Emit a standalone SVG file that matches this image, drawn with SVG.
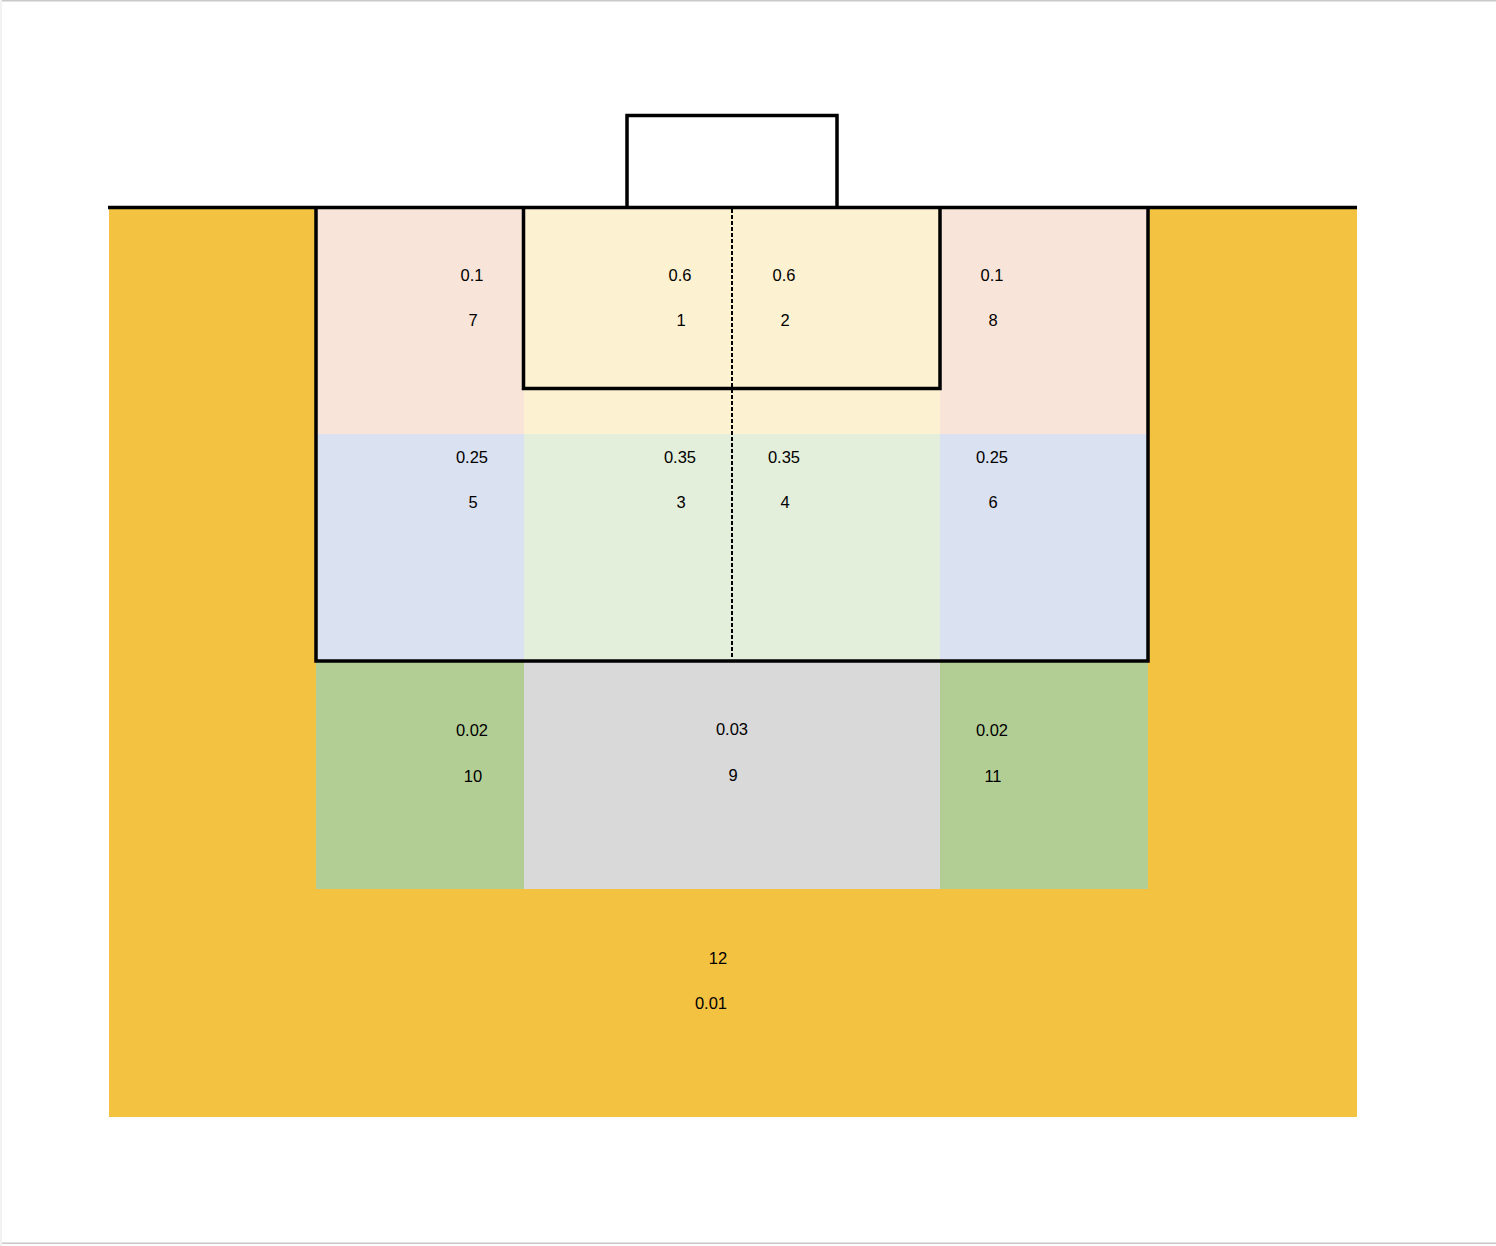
<svg xmlns="http://www.w3.org/2000/svg" width="1496" height="1246" viewBox="0 0 1496 1246">
<style>
.t{font-family:"Liberation Sans",Arial,sans-serif;font-size:16.5px;fill:#000;text-anchor:middle}
.ln{fill:none;stroke:#000;stroke-width:3.5}
</style>
<rect x="0" y="0" width="1496" height="1246" fill="#fff"/>
<rect x="0" y="0" width="1496" height="1.5" fill="#c8c8c8"/>
<rect x="0" y="0" width="2" height="1246" fill="#f2f2f2"/>
<rect x="2" y="1242.5" width="1494" height="1.5" fill="#c8c8c8"/>
<g id="field">
<rect x="109" y="207" width="1248" height="910" fill="#F3C241"/>
</g>
<g id="zone7"><rect x="316" y="207" width="208" height="227" fill="#F8E4D8"/><text class="t" x="472" y="281">0.1</text><text class="t" x="473" y="326">7</text></g>
<g id="zone1"><rect x="524" y="207" width="208" height="227" fill="#FCF1D0"/><text class="t" x="680" y="281">0.6</text><text class="t" x="681" y="326">1</text></g>
<g id="zone2"><rect x="732" y="207" width="208" height="227" fill="#FCF1D0"/><text class="t" x="784" y="281">0.6</text><text class="t" x="785" y="326">2</text></g>
<g id="zone8"><rect x="940" y="207" width="208" height="227" fill="#F8E4D8"/><text class="t" x="992" y="281">0.1</text><text class="t" x="993" y="326">8</text></g>
<g id="zone5"><rect x="316" y="434" width="208" height="227" fill="#DAE1F0"/><text class="t" x="472" y="463">0.25</text><text class="t" x="473" y="508">5</text></g>
<g id="zone3"><rect x="524" y="434" width="208" height="227" fill="#E3EFDB"/><text class="t" x="680" y="463">0.35</text><text class="t" x="681" y="508">3</text></g>
<g id="zone4"><rect x="732" y="434" width="208" height="227" fill="#E3EFDB"/><text class="t" x="784" y="463">0.35</text><text class="t" x="785" y="508">4</text></g>
<g id="zone6"><rect x="940" y="434" width="208" height="227" fill="#DAE1F0"/><text class="t" x="992" y="463">0.25</text><text class="t" x="993" y="508">6</text></g>
<g id="zone10"><rect x="316" y="661" width="208" height="228" fill="#B2CE95"/><text class="t" x="472" y="736">0.02</text><text class="t" x="473" y="782">10</text></g>
<g id="zone9"><rect x="524" y="661" width="416" height="228" fill="#D9D9D9"/><text class="t" x="732" y="735">0.03</text><text class="t" x="733" y="781">9</text></g>
<g id="zone11"><rect x="940" y="661" width="208" height="228" fill="#B2CE95"/><text class="t" x="992" y="736">0.02</text><text class="t" x="993" y="782">11</text></g>
<g id="zone12"><text class="t" x="718" y="964">12</text><text class="t" x="711" y="1009">0.01</text></g>
<g id="lines">
<path class="ln" d="M627 207.5V115.5H837V207.5"/>
<line class="ln" x1="108" y1="207.5" x2="1357" y2="207.5"/>
<path class="ln" d="M316 207.5V661H1148V207.5"/>
<path class="ln" d="M523.5 207.5V388.5H940V207.5"/>
<line x1="732" y1="209" x2="732" y2="659" stroke="#000" stroke-width="2" stroke-dasharray="4 2"/>
</g>
</svg>
